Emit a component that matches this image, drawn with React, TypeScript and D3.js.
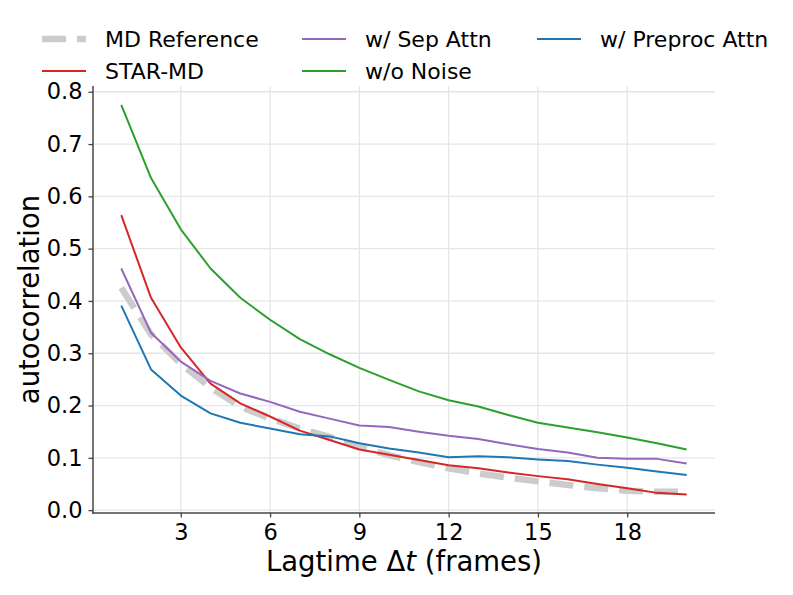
import React, { useRef, useEffect } from 'react';
import * as d3 from 'd3';

// lagtime in frames
const lagtimes = d3.range(1, 21);

const mdReference = [0.425, 0.336, 0.280, 0.234, 0.198, 0.175, 0.156, 0.140, 0.121, 0.105, 0.092, 0.080, 0.070, 0.062, 0.055, 0.048, 0.042, 0.037, 0.035, 0.035];
const starMd = [0.564, 0.406, 0.311, 0.242, 0.204, 0.179, 0.152, 0.134, 0.116, 0.106, 0.096, 0.086, 0.080, 0.072, 0.065, 0.059, 0.050, 0.042, 0.033, 0.030];
const sepAttn = [0.462, 0.339, 0.284, 0.247, 0.223, 0.207, 0.188, 0.175, 0.162, 0.159, 0.150, 0.142, 0.136, 0.126, 0.117, 0.110, 0.100, 0.098, 0.098, 0.089];
const noNoise = [0.775, 0.635, 0.537, 0.462, 0.406, 0.364, 0.327, 0.298, 0.272, 0.249, 0.227, 0.210, 0.198, 0.182, 0.167, 0.158, 0.149, 0.139, 0.128, 0.116];
const preprocAttn = [0.391, 0.269, 0.219, 0.185, 0.167, 0.156, 0.145, 0.141, 0.128, 0.118, 0.110, 0.101, 0.103, 0.101, 0.097, 0.094, 0.087, 0.081, 0.074, 0.067];

const xTicks = [3, 6, 9, 12, 15, 18];
const yTicks = [0, 0.1, 0.2, 0.3, 0.4, 0.5, 0.6, 0.7, 0.8];

interface Series {
    name: string;
    values: number[];
    color: string;
    width: number;
    dash?: string;
}

const series: Series[] = [
    { name: "MD Reference", values: mdReference, color: "#cccccc", width: 6.5, dash: "24,11" },
    { name: "STAR-MD", values: starMd, color: "#d62728", width: 2 },
    { name: "w/ Sep Attn", values: sepAttn, color: "#9467bd", width: 2 },
    { name: "w/o Noise", values: noNoise, color: "#2ca02c", width: 2 },
    { name: "w/ Preproc Attn", values: preprocAttn, color: "#1f77b4", width: 2 },
];

const W = 793;
const H = 595;
const FONT = "'DejaVu Sans', sans-serif";

const App: React.FC = () => {
    const svgRef = useRef<SVGSVGElement>(null);

    useEffect(() => {
        if (!svgRef.current) return;
        const svg = d3.select(svgRef.current);
        svg.selectAll("*").remove();

        const left = 93, right = 715, top = 86, bottom = 513;

        const x = d3.scaleLinear().domain([0.05, 20.95]).range([left, right]);
        const y = d3.scaleLinear().domain([-0.0055, 0.811]).range([bottom, top]);

        // grid
        const grid = svg.append("g");
        grid.selectAll("line.v")
            .data(xTicks)
            .enter()
            .append("line")
            .attr("x1", d => x(d)).attr("x2", d => x(d))
            .attr("y1", top).attr("y2", bottom)
            .attr("stroke", "#e6e6e6").attr("stroke-width", 1.3);
        grid.selectAll("line.h")
            .data(yTicks)
            .enter()
            .append("line")
            .attr("y1", d => y(d)).attr("y2", d => y(d))
            .attr("x1", left).attr("x2", right)
            .attr("stroke", "#e6e6e6").attr("stroke-width", 1.3);

        // lines
        const line = d3.line<number>()
            .x((_, i) => x(lagtimes[i]))
            .y(d => y(d));

        series.forEach(s => {
            svg.append("path")
                .datum(s.values)
                .attr("d", line)
                .attr("fill", "none")
                .attr("stroke", s.color)
                .attr("stroke-width", s.width)
                .attr("stroke-dasharray", s.dash || null)
                .attr("stroke-linejoin", "round");
        });

        // axes
        const axisColor = "#444";
        const xAxis = svg.append("g").attr("transform", `translate(0, ${bottom})`)
            .call(d3.axisBottom(x).tickValues(xTicks).tickSize(4.5).tickPadding(7).tickFormat(d3.format("d")));
        const yAxis = svg.append("g").attr("transform", `translate(${left}, 0)`)
            .call(d3.axisLeft(y).tickValues(yTicks).tickSize(4.5).tickPadding(6).tickFormat(d3.format(".1f")));

        [xAxis, yAxis].forEach(a => {
            a.select(".domain").remove();
            a.selectAll("line").attr("stroke", axisColor).attr("stroke-width", 1.3);
            a.selectAll("text")
                .attr("font-family", FONT)
                .attr("font-size", "22.5px")
                .attr("fill", "#000");
        });

        svg.append("line")
            .attr("x1", left).attr("x2", left).attr("y1", top).attr("y2", bottom + 0.7)
            .attr("stroke", axisColor).attr("stroke-width", 1.5);
        svg.append("line")
            .attr("x1", left - 0.7).attr("x2", right).attr("y1", bottom).attr("y2", bottom)
            .attr("stroke", axisColor).attr("stroke-width", 1.5);

        // axis labels
        const xl = svg.append("text")
            .attr("x", (left + right) / 2)
            .attr("y", 571)
            .attr("text-anchor", "middle")
            .attr("font-family", FONT)
            .attr("font-size", "27.5px");
        xl.append("tspan").text("Lagtime Δ");
        xl.append("tspan").attr("font-style", "italic").text("t");
        xl.append("tspan").text(" (frames)");

        svg.append("text")
            .attr("transform", `translate(39, ${(top + bottom) / 2}) rotate(-90)`)
            .attr("text-anchor", "middle")
            .attr("font-family", FONT)
            .attr("font-size", "27.5px")
            .text("autocorrelation");

        // legend (3 columns, filled column-first)
        const colX = [42, 302, 537];
        const rowY = [39, 71];
        series.forEach((s, i) => {
            const col = Math.floor(i / 2);
            const row = i % 2;
            const g = svg.append("g").attr("transform", `translate(${colX[col]}, ${rowY[row]})`);
            g.append("line")
                .attr("x1", 0).attr("x2", 44)
                .attr("y1", 0).attr("y2", 0)
                .attr("stroke", s.color)
                .attr("stroke-width", s.width)
                .attr("stroke-dasharray", s.dash || null);
            g.append("text")
                .attr("x", 63)
                .attr("y", 8)
                .attr("font-family", FONT)
                .attr("font-size", "22px")
                .text(s.name);
        });
    }, []);

    return (
        <svg
            ref={svgRef}
            width={W}
            height={H}
            style={{ position: "absolute", left: 0, top: 0, background: "#fff" }}
        />
    );
};

export default App;
